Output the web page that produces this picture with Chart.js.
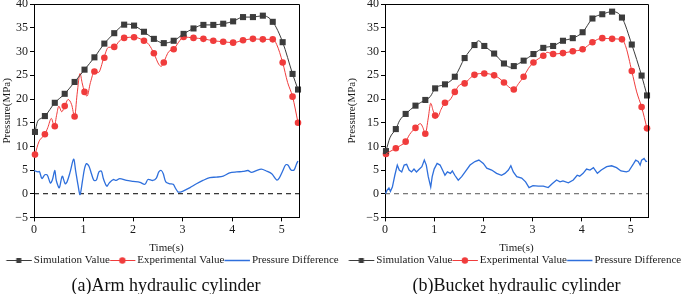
<!DOCTYPE html>
<html>
<head>
<meta charset="utf-8">
<script src="https://cdn.jsdelivr.net/npm/chart.js@4.4.0/dist/chart.umd.min.js"></script>
<style>
  body { margin: 0; background: #fff; width: 685px; height: 294px; position: relative; overflow: hidden; font-family: "Liberation Serif", serif; }
  canvas { position: absolute; top: 0; }
  #armChart { left: 0; }
  #bucketChart { left: 345px; }
  .caption { position: absolute; top: 274px; font-size: 18px; line-height: 22px; text-align: center; color: #111; white-space: nowrap; }
</style>
</head>
<body>
<canvas id="armChart" width="345" height="294"></canvas>
<canvas id="bucketChart" width="340" height="294"></canvas>
<div class="caption" style="left:0;width:332px">(a)Arm hydraulic cylinder</div>
<div class="caption" style="left:345px;width:343px">(b)Bucket hydraulic cylinder</div>
<script>
// marker times (s), shared by both panels
const markT = [0.02, 0.22, 0.42, 0.62, 0.82, 1.02, 1.22, 1.42, 1.62, 1.82, 2.02, 2.22, 2.42, 2.62,
  2.82, 3.02, 3.22, 3.42, 3.62, 3.82, 4.02, 4.22, 4.42, 4.62, 4.82, 5.02, 5.22, 5.33];

// (a) arm cylinder
const armSimMarks = [13.05, 16.4, 19.2, 21.1, 23.6, 26.2, 28.8, 31.7, 33.9, 35.7, 35.5, 34.2, 32.7, 31.8,
  32.3, 33.75, 34.9, 35.65, 35.65, 35.9, 36.4, 37.3, 37.3, 37.6, 36.3, 32.0, 25.3, 22.0];
const armExpMarks = [8.26, 12.56, 14.26, 18.5, 16.3, 21.5, 25.8, 28.7, 31.0, 32.9, 33.05, 32.3, 29.65, 27.7,
  30.5, 33.1, 32.9, 32.7, 32.3, 32.1, 31.9, 32.4, 32.7, 32.6, 32.6, 27.7, 20.5, 15.0];
const armSimT = [0.02, 0.07, 0.14, 0.22, 0.42, 0.62, 0.82, 1.02, 1.22, 1.42, 1.62, 1.82, 1.92, 2.02, 2.22, 2.42,
  2.62, 2.82, 3.02, 3.22, 3.42, 3.62, 3.82, 4.02, 4.22, 4.42, 4.62, 4.82, 5.02, 5.22, 5.33];
const armSimV = [13.05, 15.2, 15.9, 16.4, 19.2, 21.1, 23.6, 26.2, 28.8, 31.7, 33.9, 35.7, 35.8, 35.5, 34.2, 32.7,
  31.8, 32.3, 33.75, 34.9, 35.65, 35.65, 35.9, 36.4, 37.3, 37.3, 37.6, 36.3, 32.0, 25.3, 22.0];
const armExpT = [0.02, 0.1, 0.22, 0.28, 0.35, 0.41, 0.46, 0.5, 0.56, 0.62, 0.69, 0.76, 0.82, 0.87, 0.93, 0.97,
  1.02, 1.07, 1.14, 1.22, 1.3, 1.41, 1.5, 1.62, 1.72, 1.82, 2.02, 2.22, 2.32, 2.42, 2.52, 2.57, 2.62, 2.72, 2.82,
  2.92, 3.02, 3.22, 3.42, 3.62, 3.82, 4.02, 4.22, 4.42, 4.62, 4.82, 4.9, 5.02, 5.12, 5.22, 5.33];
const armExpV = [8.26, 11.0, 12.56, 14.0, 15.9, 14.26, 16.8, 18.5, 17.3, 18.5, 19.9, 18.8, 16.3, 21.0, 25.4, 23.5,
  21.5, 20.6, 23.5, 25.8, 25.6, 28.7, 30.9, 31.0, 32.2, 32.9, 33.05, 32.3, 31.5, 29.65, 27.3, 26.9, 27.8, 30.0, 30.5,
  32.0, 33.1, 32.9, 32.7, 32.3, 32.1, 31.9, 32.4, 32.7, 32.6, 32.6, 31.5, 27.7, 23.5, 20.5, 15.0];
const armDiffT = [0, 0.08, 0.11, 0.16, 0.22, 0.27, 0.33, 0.37, 0.42, 0.45, 0.51, 0.57, 0.63, 0.67, 0.73, 0.8, 0.84,
  0.89, 0.93, 0.98, 1.02, 1.06, 1.11, 1.16, 1.21, 1.26, 1.31, 1.36, 1.4, 1.47, 1.52, 1.6, 1.66, 1.73, 1.87, 2.0,
  2.14, 2.24, 2.3, 2.4, 2.47, 2.52, 2.57, 2.61, 2.66, 2.74, 2.81, 2.86, 2.91, 2.98, 3.04, 3.15, 3.28, 3.41, 3.55,
  3.68, 3.82, 3.95, 4.09, 4.22, 4.32, 4.39, 4.49, 4.59, 4.69, 4.8, 4.9, 4.95, 5.02, 5.08, 5.13, 5.19, 5.25, 5.3, 5.33];
const armDiffV = [4.9, 4.6, 4.7, 3.2, 4.0, 3.9, 2.25, 2.9, 4.9, 2.8, 1.26, 3.7, 2.1, 2.6, 4.6, 7.3, 4.9,
  1.76, -0.2, 2.8, 5.3, 6.35, 5.8, 4.2, 2.8, 2.9, 4.6, 4.8, 3.2, 1.6, 2.3, 3.0, 2.8, 3.2, 2.8, 2.6,
  2.4, 2.0, 3.0, 2.8, 3.3, 4.6, 4.9, 4.2, 2.5, 2.1, 2.0, 1.1, 0.35, 0.42, 0.7, 1.3, 2.1, 2.8, 3.4,
  3.5, 3.7, 4.4, 4.6, 4.7, 4.9, 4.5, 4.9, 5.2, 4.8, 4.2, 2.9, 3.3, 4.8, 6.1, 6.0, 5.0, 5.0, 6.3, 6.9];

// (b) bucket cylinder
const bucketSimMarks = [9.0, 13.65, 16.85, 18.6, 19.8, 22.25, 23.1, 24.7, 28.65, 31.4, 31.2, 29.6, 27.5, 26.95,
  28.1, 29.5, 30.8, 31.2, 32.3, 32.85, 34.1, 37.0, 37.9, 38.45, 37.2, 31.5, 24.95, 20.75];
const bucketExpMarks = [8.4, 9.6, 11.0, 13.9, 12.65, 16.5, 19.2, 21.5, 23.3, 25.1, 25.4, 25.0, 23.5, 22.0,
  24.7, 27.7, 29.15, 29.5, 29.7, 30.1, 30.5, 32.0, 32.85, 32.7, 32.6, 25.9, 18.3, 13.8];
const bucketSimT = [0.02, 0.1, 0.22, 0.3, 0.42, 0.62, 0.82, 0.92, 1.02, 1.22, 1.42, 1.62, 1.82, 1.9, 2.02, 2.22,
  2.42, 2.55, 2.62, 2.82, 3.02, 3.22, 3.42, 3.62, 3.82, 4.02, 4.22, 4.42, 4.62, 4.82, 5.02, 5.22, 5.33];
const bucketSimV = [9.0, 11.8, 13.65, 15.5, 16.85, 18.6, 19.8, 20.5, 22.25, 23.1, 24.7, 28.65, 31.4, 32.3, 31.2, 29.6,
  27.5, 26.7, 26.95, 28.1, 29.5, 30.8, 31.2, 32.3, 32.85, 34.1, 37.0, 37.9, 38.45, 37.2, 31.5, 24.95, 20.75];
const bucketExpT = [0.02, 0.1, 0.22, 0.32, 0.42, 0.5, 0.62, 0.72, 0.77, 0.82, 0.88, 0.93, 0.98, 1.02, 1.07, 1.14,
  1.22, 1.32, 1.42, 1.52, 1.62, 1.72, 1.82, 2.02, 2.22, 2.32, 2.42, 2.55, 2.62, 2.72, 2.82, 2.92, 3.02, 3.12, 3.22,
  3.3, 3.42, 3.62, 3.82, 4.02, 4.22, 4.42, 4.62, 4.82, 4.9, 5.02, 5.12, 5.22, 5.33];
const bucketExpV = [8.4, 8.9, 9.6, 10.2, 11.0, 12.5, 13.9, 14.8, 14.0, 12.65, 16.0, 19.1, 17.5, 16.5, 16.2, 17.8,
  19.2, 19.8, 21.5, 23.0, 23.3, 24.3, 25.1, 25.4, 25.0, 24.4, 23.5, 22.3, 22.0, 23.3, 24.7, 26.5, 27.7, 28.5, 29.15,
  29.85, 29.5, 29.7, 30.1, 30.5, 32.0, 32.85, 32.7, 32.6, 31.0, 25.9, 21.5, 18.3, 13.8];
const bucketDiffT = [0.01, 0.04, 0.08, 0.11, 0.15, 0.2, 0.25, 0.29, 0.34, 0.39, 0.44, 0.49, 0.54, 0.59, 0.64, 0.69,
  0.75, 0.8, 0.84, 0.88, 0.93, 0.96, 1.0, 1.06, 1.12, 1.17, 1.22, 1.27, 1.33, 1.37, 1.42, 1.49, 1.56, 1.63, 1.73,
  1.83, 1.91, 2.0, 2.07, 2.17, 2.27, 2.37, 2.44, 2.51, 2.56, 2.61, 2.68, 2.78, 2.86, 2.93, 3.01, 3.12, 3.22, 3.32,
  3.4, 3.49, 3.56, 3.62, 3.73, 3.83, 3.91, 3.96, 4.03, 4.1, 4.17, 4.24, 4.32, 4.4, 4.51, 4.61, 4.71, 4.8, 4.91,
  4.96, 5.06, 5.1, 5.15, 5.19, 5.22, 5.27, 5.31, 5.33];
const bucketDiffV = [0, 0.7, 1.2, 0.5, 1.4, 3.9, 6.05, 5.0, 4.6, 6.05, 6.2, 5.0, 4.6, 5.2, 4.6, 5.1,
  5.7, 7.1, 6.05, 3.6, 1.4, 3.6, 5.2, 6.4, 6.05, 5.0, 3.9, 4.6, 4.3, 4.8, 3.9, 2.85, 3.6, 4.6, 6.05,
  6.8, 7.1, 6.4, 5.4, 5.0, 4.3, 3.9, 4.3, 5.0, 5.9, 4.6, 3.6, 3.3, 2.5, 1.3, 1.7, 1.6, 1.6, 1.3,
  2.1, 2.9, 2.5, 2.7, 2.3, 2.9, 3.9, 3.7, 4.3, 5.2, 5.0, 5.5, 4.3, 5.0, 5.7, 5.9, 5.5, 4.8, 4.6,
  4.8, 6.4, 7.1, 6.8, 6.05, 7.1, 7.45, 6.8, 6.9];

const seriesNames = ["Simulation Value", "Experimental Value", "Pressure Difference"];
const GRAY = "#3c3c3c", RED = "#f03c3c", BLUE = "#2e6fdc";
const FONT = "'Liberation Serif', 'Times New Roman', serif";

const pts = (t, v) => t.map((x, i) => ({ x: x, y: v[i] }));

// legend symbol: line with marker in the middle
function legendIcon(color, marker) {
  const c = document.createElement("canvas");
  c.width = 33; c.height = 9;
  const g = c.getContext("2d");
  g.strokeStyle = color;
  g.lineWidth = marker ? 1 : 1.5;
  g.beginPath(); g.moveTo(5.5, 4.5); g.lineTo(31, 4.5); g.stroke();
  g.fillStyle = color;
  if (marker === "rect") g.fillRect(15.5, 2, 5, 5);
  if (marker === "circle") { g.beginPath(); g.arc(18, 4.5, 3.2, 0, Math.PI * 2); g.fill(); }
  return c;
}
const icons = [legendIcon(GRAY, "rect"), legendIcon(RED, "circle"), legendIcon(BLUE)];

const framePlugin = {
  id: "frame",
  afterDatasetsDraw(chart) {
    const a = chart.chartArea, ctx = chart.ctx;
    ctx.save();
    ctx.strokeStyle = "#000";
    ctx.lineWidth = 1;
    ctx.beginPath();
    ctx.moveTo(Math.round(a.left), Math.round(a.top) + 0.5);
    ctx.lineTo(Math.round(a.right) + 0.5, Math.round(a.top) + 0.5);
    ctx.lineTo(Math.round(a.right) + 0.5, Math.round(a.bottom));
    ctx.stroke();
    ctx.restore();
  }
};

function buildChart(id, d) {
  new Chart(document.getElementById(id), {
    type: "line",
    data: {
      datasets: [
        { label: seriesNames[0], data: pts(d.simT, d.simV), borderColor: GRAY, borderWidth: 1,
          pointRadius: 0, cubicInterpolationMode: "monotone" },
        { label: seriesNames[1], data: pts(d.expT, d.expV), borderColor: RED, borderWidth: 1,
          pointRadius: 0, cubicInterpolationMode: "monotone" },
        { label: seriesNames[2], data: pts(d.diffT, d.diffV), borderColor: BLUE, borderWidth: 1.3,
          pointRadius: 0, tension: d.diffTension },
        { label: "simMarks", data: pts(markT, d.simMarks), showLine: false, pointStyle: "rect",
          pointRadius: 4.3, backgroundColor: GRAY, borderColor: GRAY, borderWidth: 0, clip: false },
        { label: "expMarks", data: pts(markT, d.expMarks), showLine: false, pointStyle: "circle",
          pointRadius: 3.3, backgroundColor: RED, borderColor: RED, borderWidth: 0, clip: false },
        { label: "zero", data: [{ x: 0, y: 0 }, { x: 5.35, y: 0 }], borderColor: d.zeroColor,
          borderWidth: 1, borderDash: [5, 4], pointRadius: 0 }
      ]
    },
    options: {
      responsive: false,
      animation: false,
      devicePixelRatio: 1,
      layout: { padding: { top: 4, bottom: 18, left: 0, right: 0 } },
      scales: {
        x: {
          type: "linear", min: 0, max: 5.35,
          ticks: { stepSize: 1, includeBounds: false, padding: 1, color: "#1a1a1a", font: { family: FONT, size: 12 } },
          grid: { display: true, drawOnChartArea: false, drawTicks: true, tickLength: 4, color: "#000" },
          border: { color: "#000", width: 1 },
          title: { display: true, text: "Time(s)", color: "#1a1a1a", font: { family: FONT, size: 11 },
                   padding: { top: 4, bottom: 0 } }
        },
        y: {
          min: -5, max: 40,
          ticks: { stepSize: 5, padding: 2, color: "#1a1a1a", font: { family: FONT, size: 12 },
                   callback: (v) => (v < 0 ? "\u2212" + (-v) : v) },
          grid: { display: true, drawOnChartArea: false, drawTicks: true, tickLength: 4, color: "#000" },
          border: { color: "#000", width: 1 },
          title: { display: true, text: "Pressure(MPa)", color: "#1a1a1a", font: { family: FONT, size: 11 },
                   padding: { top: 1, bottom: 0 } },
          afterFit(s) { s.width = d.yWidth; s.paddingTop = 0; s.paddingBottom = 0; }
        },
        spacer: {
          type: "linear", position: "right", display: true,
          grid: { display: false }, ticks: { display: false }, border: { display: false },
          afterFit(s) { s.width = d.rightGap; }
        }
      },
      plugins: {
        tooltip: { enabled: false },
        legend: {
          position: "bottom",
          labels: {
            usePointStyle: true, pointStyleWidth: 22, padding: 0,
            color: "#1a1a1a", font: { family: FONT, size: 11 },
            generateLabels: (chart) => Chart.defaults.plugins.legend.labels.generateLabels(chart)
              .filter((l) => l.datasetIndex < 3)
              .map((l) => Object.assign(l, { pointStyle: icons[l.datasetIndex] }))
          }
        }
      }
    },
    plugins: [framePlugin]
  });
}

buildChart("armChart", {
  simT: armSimT, simV: armSimV, expT: armExpT, expV: armExpV, diffT: armDiffT, diffV: armDiffV,
  simMarks: armSimMarks, expMarks: armExpMarks, diffTension: 0.3, zeroColor: "#000",
  yWidth: 34, rightGap: 46
});
buildChart("bucketChart", {
  simT: bucketSimT, simV: bucketSimV, expT: bucketExpT, expV: bucketExpV, diffT: bucketDiffT, diffV: bucketDiffV,
  simMarks: bucketSimMarks, expMarks: bucketExpMarks, diffTension: 0, zeroColor: "#555",
  yWidth: 40, rightGap: 37
});
</script>
</body>
</html>
